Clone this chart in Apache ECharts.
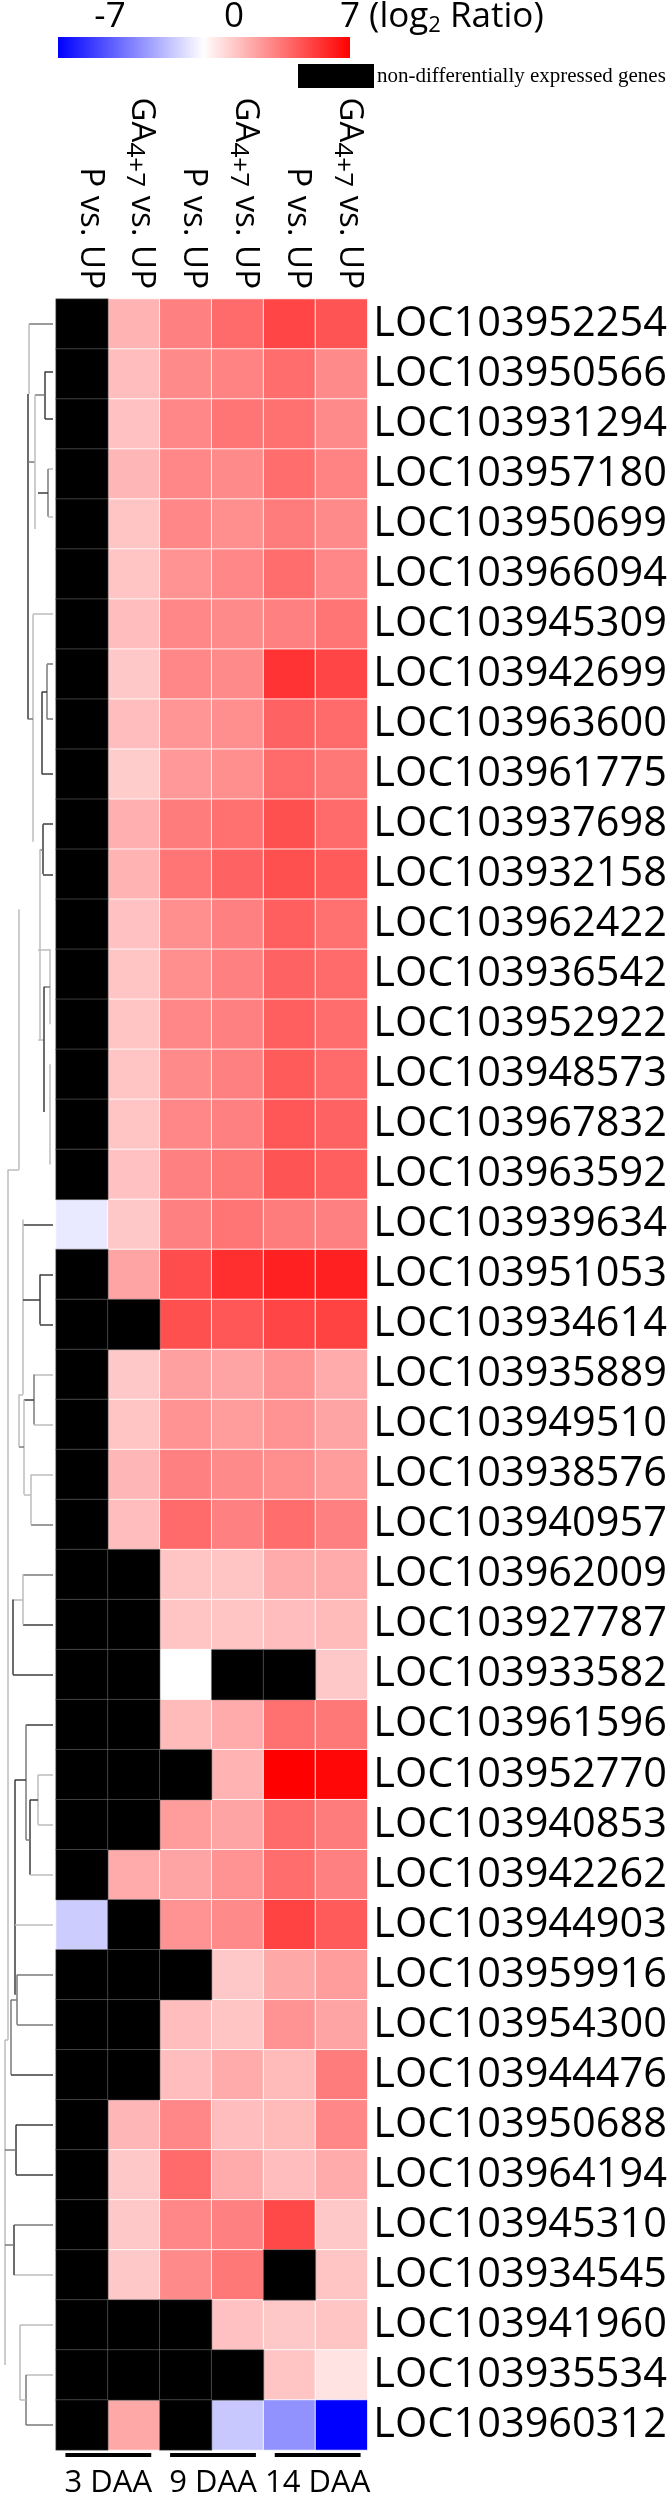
<!DOCTYPE html>
<html>
<head>
<meta charset="utf-8">
<script src="https://cdn.jsdelivr.net/npm/echarts@6/dist/echarts.min.js"></script>
<style>
  html, body { margin: 0; padding: 0; background: #fff; }
  #heat { width: 670px; height: 2499px; }
</style>
</head>
<body>
<div id="heat"></div>
<script>
// genes, top to bottom
var genes = [
  'LOC103952254', 'LOC103950566', 'LOC103931294', 'LOC103957180', 'LOC103950699',
  'LOC103966094', 'LOC103945309', 'LOC103942699', 'LOC103963600', 'LOC103961775',
  'LOC103937698', 'LOC103932158', 'LOC103962422', 'LOC103936542', 'LOC103952922',
  'LOC103948573', 'LOC103967832', 'LOC103963592', 'LOC103939634', 'LOC103951053',
  'LOC103934614', 'LOC103935889', 'LOC103949510', 'LOC103938576', 'LOC103940957',
  'LOC103962009', 'LOC103927787', 'LOC103933582', 'LOC103961596', 'LOC103952770',
  'LOC103940853', 'LOC103942262', 'LOC103944903', 'LOC103959916', 'LOC103954300',
  'LOC103944476', 'LOC103950688', 'LOC103964194', 'LOC103945310', 'LOC103934545',
  'LOC103941960', 'LOC103935534', 'LOC103960312'
];
// column headers (rich text: GA with subscript 4+7)
var comparisons = [
  '{t|P vs. UP}', '{t|GA}{s|4+7}{t| vs. UP}',
  '{t|P vs. UP}', '{t|GA}{s|4+7}{t| vs. UP}',
  '{t|P vs. UP}', '{t|GA}{s|4+7}{t| vs. UP}'
];
var stages = ['3 DAA', '9 DAA', '14 DAA'];

// log2 ratio per gene, null = non-differentially expressed
var p3 = [null, null, null, null, null, null, null, null, null, null,
  null, null, null, null, null, null, null, null, -0.6, null,
  null, null, null, null, null, null, null, null, null, null,
  null, null, -1.4, null, null, null, null, null, null, null,
  null, null, null];
var ga3 = [2.1, 1.8, 1.7, 2.0, 1.6, 1.6, 1.8, 1.5, 1.8, 1.4,
  2.2, 2.1, 1.7, 1.6, 1.6, 1.6, 1.6, 1.7, 1.5, 2.5,
  null, 1.5, 1.6, 2.0, 1.8, null, null, null, null, null,
  null, 2.3, null, null, null, null, 2.0, 1.5, 1.5, 1.5,
  null, null, 2.4];
var p9 = [3.5, 3.2, 3.3, 3.3, 3.3, 3.0, 3.3, 3.3, 2.9, 2.8,
  3.6, 3.8, 3.1, 3.1, 3.3, 3.2, 3.3, 3.5, 3.5, 4.9,
  4.8, 2.6, 3.0, 3.5, 4.1, 1.6, 1.6, 0.0, 1.9, null,
  2.7, 2.5, 3.0, null, 1.8, 1.8, 3.3, 4.1, 3.3, 3.2,
  null, null, null];
var ga9 = [4.1, 3.4, 3.8, 3.2, 3.1, 3.3, 3.2, 3.2, 3.1, 3.1,
  3.9, 4.3, 3.5, 3.5, 3.5, 3.5, 3.5, 3.7, 3.8, 5.7,
  4.6, 2.5, 2.7, 3.2, 3.5, 1.6, 1.6, null, 2.3, 2.1,
  2.5, 3.0, 3.2, 1.5, 1.6, 2.3, 1.8, 2.3, 3.5, 3.7,
  1.7, null, -1.5];
var p14 = [5.1, 4.0, 3.9, 4.0, 3.6, 4.0, 3.5, 5.6, 4.3, 4.1,
  4.8, 4.8, 4.4, 4.3, 4.4, 4.5, 4.6, 4.7, 3.6, 6.1,
  5.1, 3.0, 3.0, 3.1, 4.0, 2.3, 1.8, null, 3.9, 7.0,
  4.1, 4.0, 5.2, 2.4, 3.0, 1.9, 1.9, 1.8, 5.0, null,
  1.5, 1.6, -3.0];
var ga14 = [4.7, 3.2, 3.2, 3.4, 3.2, 3.3, 3.8, 5.1, 4.1, 3.7,
  4.1, 4.5, 3.9, 4.1, 4.0, 4.1, 4.3, 4.4, 3.5, 6.1,
  5.2, 2.3, 2.5, 2.7, 3.5, 2.3, 1.9, 1.5, 3.7, 6.8,
  3.6, 3.5, 4.5, 2.7, 2.5, 3.6, 3.3, 2.3, 1.5, 1.6,
  1.6, 0.8, -7.0];

// dendrogram links: [depth1, row1, depth2, row2] (depth 0 = root side, 53 = leaves)
var dendroSegs = [
  [29, 0, 53, 0], [29, 0, 29, 1.4], [28, 1.4, 28, 7.9], [28, 2.76, 35, 2.76],
  [45, 0.95, 53, 0.95], [45, 1.9, 53, 1.9], [45, 0.95, 45, 1.9], [35, 1.42, 45, 1.42],
  [35, 1.42, 35, 4.1], [48, 2.9, 53, 2.9], [48, 3.85, 53, 3.85], [48, 2.9, 48, 3.85],
  [38, 3.37, 48, 3.37], [33, 5.8, 53, 5.8], [33, 5.8, 33, 10.35], [28, 7.9, 33, 7.9],
  [47, 6.8, 53, 6.8], [47, 7.9, 53, 7.9], [47, 6.8, 47, 7.9], [42, 7.35, 47, 7.35],
  [42, 7.35, 42, 9], [42, 9, 53, 9],
  [43, 10, 53, 10], [43, 11, 53, 11], [43, 10, 43, 11], [40, 10.5, 43, 10.5],
  [40, 10.5, 40, 14.3], [38, 14.3, 44, 14.3],
  [38, 12.5, 50, 12.5], [50, 12.5, 50, 14], [44, 13.25, 50, 13.25], [44, 13.25, 44, 15.75],
  [50, 14.8, 50, 16.8], [19, 11.7, 19, 16.9], [8, 16.9, 19, 16.9],
  [8, 16.9, 8, 34.3], [5, 34.3, 8, 34.3], [5, 34.3, 5, 40.8],
  [23, 18, 53, 18], [23, 17.9, 23, 21.4], [40, 19, 53, 19], [40, 20, 53, 20],
  [40, 19, 40, 20], [23, 19.5, 40, 19.5], [34, 21, 53, 21], [34, 22, 53, 22],
  [34, 21, 34, 22], [24, 21.5, 34, 21.5], [24, 21.5, 24, 23.4], [19, 22.45, 24, 22.45],
  [19, 21.4, 19, 22.45], [19, 21.4, 23, 21.4],
  [31, 23, 53, 23], [31, 24, 53, 24], [31, 23, 31, 24], [24, 23.4, 31, 23.4],
  [23, 25, 53, 25], [23, 26, 53, 26], [23, 25, 23, 26], [13, 25.5, 23, 25.5],
  [13, 25.5, 13, 27], [13, 27, 53, 27],
  [26, 28, 53, 28], [26, 28, 26, 30.3], [38, 29, 53, 29], [38, 30, 53, 30],
  [38, 29, 38, 30], [30, 29.5, 38, 29.5], [30, 29.5, 30, 31], [30, 31, 53, 31],
  [26, 30.3, 30, 30.3], [15, 29.1, 26, 29.1], [15, 29.1, 15, 33.4], [15, 32, 53, 32],
  [17, 33, 53, 33], [17, 34, 53, 34], [17, 33, 17, 34], [11, 33.5, 17, 33.5],
  [11, 33.5, 11, 35], [11, 35, 53, 35],
  [16, 36, 53, 36], [16, 37, 53, 37], [16, 36, 16, 37], [5, 36.5, 16, 36.5],
  [14, 38, 53, 38], [14, 39, 53, 39], [14, 38, 14, 39], [5, 38.4, 14, 38.4],
  [20, 40, 53, 40], [20, 40, 20, 41.5], [26, 41, 53, 41], [26, 42, 53, 42],
  [26, 41, 26, 42], [20, 41.5, 26, 41.5]
];

// line shade of each dendrogram link (0 dark, 1 mid, 2 light)
var dendroShade = [
  1, 2, 0, 1, 0, 0, 0, 1, 2, 2, 2, 1, 0, 2, 2, 1, 1, 1, 1, 0, 0, 0,
  0, 0, 0, 1, 2, 2, 2, 2, 1, 0, 2, 2, 2, 2, 2, 2,
  0, 2, 0, 0, 0, 0, 2, 2, 1, 0, 2, 1, 2, 2,
  2, 1, 2, 2, 1, 0, 2, 2, 0, 0,
  0, 1, 2, 2, 2, 0, 0, 2, 1, 0, 0, 2,
  1, 1, 1, 1, 1, 0,
  0, 0, 0, 1, 1, 2, 0, 1,
  2, 2, 2, 1, 1, 2
];
var shadeColors = ['#3c3c3c', '#7a7a7a', '#bdbdbd'];

var FONT = '"Open Sans", sans-serif';

var cols = [p3, ga3, p9, ga9, p14, ga14];
var cellData = [], naData = [];
cols.forEach(function (col, c) {
  col.forEach(function (v, r) {
    if (v === null) naData.push([c, r, 0]);
    else cellData.push([c, r, v]);
  });
});

var chart = echarts.init(document.getElementById('heat'));

var option = {
  animation: false,
  backgroundColor: '#fff',
  grid: [
    { left: 56, top: 299, width: 314, height: 2151 },
    { left: 0, top: 299, width: 56, height: 2151 },
    { left: 56, top: 2452, width: 314, height: 8 }
  ],
  xAxis: [
    {
      gridIndex: 0, type: 'category', data: comparisons, position: 'top',
      axisLine: { show: false }, axisTick: { show: false }, splitLine: { show: false },
      axisLabel: {
        interval: 0, rotate: 90, margin: 10, color: '#000', padding: [0, 0, 16, 0],
        rich: {
          t: { fontSize: 33, fontFamily: FONT, color: '#000', lineHeight: 38 },
          s: { fontSize: 26, fontFamily: FONT, color: '#000', lineHeight: 38, padding: [14, 0, 0, 0] }
        }
      }
    },
    { gridIndex: 1, type: 'value', min: 0, max: 56, show: false },
    {
      gridIndex: 2, type: 'category', data: stages,
      axisLine: { show: false }, axisTick: { show: false }, splitLine: { show: false },
      axisLabel: { interval: 0, margin: 10, fontSize: 31, fontFamily: FONT, color: '#000' }
    }
  ],
  yAxis: [
    {
      gridIndex: 0, type: 'category', data: genes, inverse: true, position: 'right',
      axisLine: { show: false }, axisTick: { show: false }, splitLine: { show: false },
      axisLabel: {
        interval: 0, margin: 6, fontSize: 41.5, fontFamily: FONT, color: '#000',
        padding: [16, 0, 0, 0]
      }
    },
    { gridIndex: 1, type: 'value', min: -0.5, max: 42.5, inverse: true, show: false },
    { gridIndex: 2, type: 'value', min: 0, max: 1, show: false }
  ],
  visualMap: {
    show: false, type: 'continuous', min: -7, max: 7, seriesIndex: 0,
    inRange: { color: ['#0000ff', '#ffffff', '#ff0000'] }
  },
  series: [
    {
      type: 'heatmap', xAxisIndex: 0, yAxisIndex: 0, data: cellData,
      itemStyle: { borderColor: 'rgba(255,255,255,0.85)', borderWidth: 1 }
    },
    {
      type: 'heatmap', xAxisIndex: 0, yAxisIndex: 0, data: naData,
      itemStyle: { color: '#000', borderColor: 'rgba(120,120,120,0.5)', borderWidth: 1 }
    },
    {
      type: 'lines', coordinateSystem: 'cartesian2d', xAxisIndex: 1, yAxisIndex: 1,
      polyline: false, silent: true,
      lineStyle: { width: 1.5, opacity: 1, curveness: 0 },
      data: dendroSegs.map(function (s, i) {
        return {
          coords: [[s[0], s[1]], [s[2], s[3]]],
          lineStyle: { color: shadeColors[dendroShade[i]] }
        };
      })
    },
    {
      type: 'custom', xAxisIndex: 2, yAxisIndex: 2, silent: true,
      data: stages.map(function (s, i) { return [i, 0.5]; }),
      renderItem: function (params, api) {
        var c = api.coord([api.value(0), api.value(1)]);
        var w = api.size([1, 0])[0];
        return {
          type: 'line',
          shape: { x1: c[0] - w * 0.41, y1: c[1], x2: c[0] + w * 0.41, y2: c[1] },
          style: { stroke: '#000', lineWidth: 4 }
        };
      }
    }
  ],
  graphic: [
    {
      type: 'rect', shape: { x: 58, y: 37, width: 292, height: 21 },
      style: {
        fill: new echarts.graphic.LinearGradient(0, 0, 1, 0, [
          { offset: 0, color: '#0000ff' },
          { offset: 0.5, color: '#ffffff' },
          { offset: 0.52, color: '#fff2f2' },
          { offset: 1, color: '#ff0000' }
        ])
      }
    },
    { type: 'text', x: 110, y: 17, style: { text: '-7', fontSize: 35, fontFamily: FONT, fill: '#000', align: 'center', verticalAlign: 'middle' } },
    { type: 'text', x: 234, y: 17, style: { text: '0', fontSize: 35, fontFamily: FONT, fill: '#000', align: 'center', verticalAlign: 'middle' } },
    {
      type: 'text', x: 340, y: 17,
      style: {
        text: '{a|7 (log}{b|2}{a| Ratio)}', align: 'left', verticalAlign: 'middle',
        rich: {
          a: { fontSize: 35, fontFamily: FONT, fill: '#000', lineHeight: 40 },
          b: { fontSize: 22, fontFamily: FONT, fill: '#000', lineHeight: 40, padding: [18, 0, 0, 0] }
        }
      }
    },
    { type: 'rect', shape: { x: 298, y: 64, width: 76, height: 24 }, style: { fill: '#000' } },
    {
      type: 'text', x: 377, y: 76,
      style: { text: 'non-differentially expressed genes', fontSize: 21, fontFamily: '"Liberation Serif", serif', fill: '#000', verticalAlign: 'middle' }
    }
  ]
};

chart.setOption(option);
</script>
</body>
</html>
